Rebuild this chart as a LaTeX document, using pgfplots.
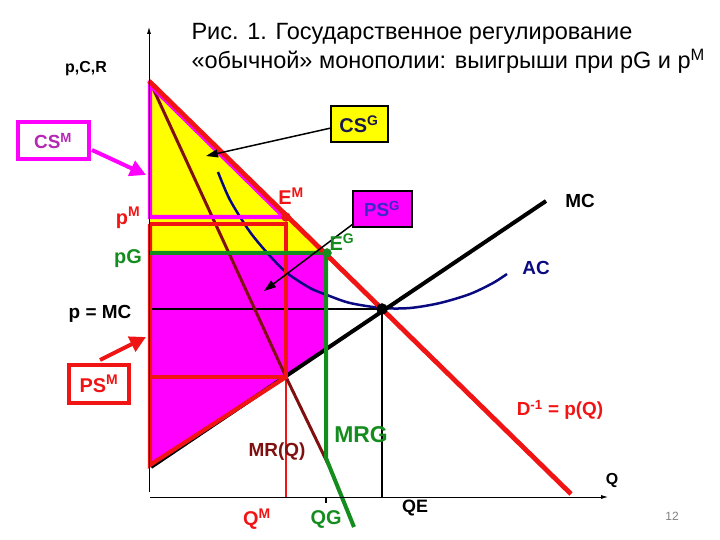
\documentclass[border=0pt]{standalone}
\usepackage{fontspec}
\setmainfont{Liberation Sans}
\usepackage{pgfplots}
\pgfplotsset{compat=1.18}
\usetikzlibrary{arrows.meta}
\definecolor{dred}{RGB}{240,20,20}
\definecolor{mag}{RGB}{255,0,255}
\definecolor{yel}{RGB}{255,255,0}
\definecolor{grn}{RGB}{20,140,30}
\definecolor{maroon}{RGB}{128,16,16}
\definecolor{navy}{RGB}{10,10,128}
\definecolor{csm}{RGB}{180,40,180}
\definecolor{psg}{RGB}{60,40,200}
\definecolor{csg}{RGB}{25,25,80}
\newcommand{\fs}[1]{\fontsize{#1}{#1}\selectfont}
\begin{document}
\begin{tikzpicture}
\begin{axis}[name=ax, hide axis, scale only axis, width=720bp, height=540bp,
  xmin=0, xmax=720, ymin=0, ymax=540, y dir=reverse, clip=false]
% fills
\addplot[fill=yel, draw=none] coordinates {(150,81) (326,253) (150,253)} -- cycle;
\addplot[fill=mag, draw=none] coordinates {(150,253) (326,253) (326,349) (150,467)} -- cycle;
% thin lines
\addplot[black, line width=1.3bp] coordinates {(150,309) (382,309)};
\addplot[black, line width=1.3bp] coordinates {(382,309) (382,497)};
\addplot[dred, line width=1.3bp] coordinates {(286,377) (286,497)};
\addplot[black, line width=1.3bp] coordinates {(326,497) (326,503)};
% AC
\addplot[navy, line width=2.5bp, smooth] coordinates {(218,172) (230,200) (250,232) (270,256) (287,273) (310,288) (327,295) (350,303) (382,308) (410,308) (440,303) (470,294) (493,283) (507,274)};
% MR
\addplot[maroon, line width=3bp] coordinates {(151,84) (286,377) (328,464)};
% MC
\addplot[black, line width=4bp] coordinates {(151,467) (546,201)};
% PS^M red box
\addplot[dred, line width=4.2bp] coordinates {(150,224) (286,224) (286,377) (150,377)};
\addplot[dred, line width=4.2bp] coordinates {(150,224) (150,465) (286,377)};
% CS^M magenta triangle
\addplot[mag, line width=4.2bp] coordinates {(150,85) (284,217) (150,217)} -- cycle;
% MRG green
\addplot[grn, line width=4bp] coordinates {(150,253) (326,253) (326,458) (354,527)};
% Demand
\addplot[dred, line width=4.8bp] coordinates {(149,81) (571,494)};
% axes
\addplot[black, line width=0.8bp, -{Latex[length=7bp,width=4bp]}] coordinates {(149,492) (149,27)};
\addplot[black, line width=0.8bp, -{Latex[length=7bp,width=4bp]}] coordinates {(150,497) (608,497)};
% dots
\addplot[only marks, mark=*, mark size=4.5bp, dred] coordinates {(286,217)};
\addplot[only marks, mark=*, mark size=4.5bp, grn] coordinates {(327,253)};
\addplot[only marks, mark=*, mark size=5.5bp, black] coordinates {(382,309)};
% boxes and arrows
\draw[mag, line width=3.5bp, fill=white] (18,122) rectangle (89,159);
\node[text=csm, font=\bfseries\fs{19}] at (53,141) {CS\textsuperscript{M}};
\draw[mag, line width=4bp, -{Triangle[length=16bp,width=16bp]}] (92,150) -- (146,175);
\draw[black, line width=1.5bp, fill=yel] (331,106) rectangle (388,142);
\node[text=csg, font=\bfseries\fs{20}] at (359,124) {CS\textsuperscript{G}};
\draw[black, line width=1.5bp, -{Triangle[length=12bp,width=8bp]}] (331,128) -- (206,156);
\draw[black, line width=1.5bp, fill=mag] (353,191) rectangle (412,227);
\node[text=psg, font=\bfseries\fs{19}] at (382,209) {PS\textsuperscript{G}};
\draw[black, line width=1.5bp, -{Triangle[length=12bp,width=8bp]}] (353,224) -- (264,291);
\draw[dred, line width=3.5bp, fill=white] (69,365) rectangle (129,403);
\node[text=dred, font=\bfseries\fs{20}] at (99,384) {PS\textsuperscript{M}};
\draw[dred, line width=4bp, -{Triangle[length=16bp,width=16bp]}] (100,360) -- (146,337);
% title
\node[anchor=base west, font=\fs{23.6}] at (188,40) {Рис. 1. Государственное регулирование};
\node[anchor=base west, font=\fs{23.6}] at (188,69) {«обычной» монополии: выигрыши при pG и p\textsuperscript{M}};
% labels
\node[font=\bfseries\fs{16}] at (86,69) {p,C,R};
\node[text=dred, font=\bfseries\fs{20}] at (291,196) {E\textsuperscript{M}};
\node[text=grn, font=\bfseries\fs{20}] at (342,242) {E\textsuperscript{G}};
\node[text=dred, font=\bfseries\fs{20}] at (128,218) {p\textsuperscript{M}};
\node[text=grn, font=\bfseries\fs{20}] at (128,259) {pG};
\node[font=\bfseries\fs{19}] at (100,314) {p = MC};
\node[font=\bfseries\fs{19}] at (580,201) {MC};
\node[text=navy, font=\bfseries\fs{19}] at (536,268) {AC};
\node[text=dred, font=\bfseries\fs{19}] at (560,410) {D\textsuperscript{-1} = p(Q)};
\node[font=\bfseries\fs{16}] at (612,481) {Q};
\node[font=\bfseries\fs{18}] at (415,508) {QE};
\node[text=dred, font=\bfseries\fs{20}] at (257,519) {Q\textsuperscript{M}};
\node[text=grn, font=\bfseries\fs{20}] at (326,519) {QG};
\node[text=grn, font=\bfseries\fs{23}] at (361,435) {MRG};
\node[text=maroon, font=\bfseries\fs{19}] at (277,452) {MR(Q)};
\node[text=gray, font=\fs{12}] at (672,516) {12};
\end{axis}
\pgfresetboundingbox
\path[use as bounding box] (ax.south west) rectangle (ax.north east);
\end{tikzpicture}
\end{document}
